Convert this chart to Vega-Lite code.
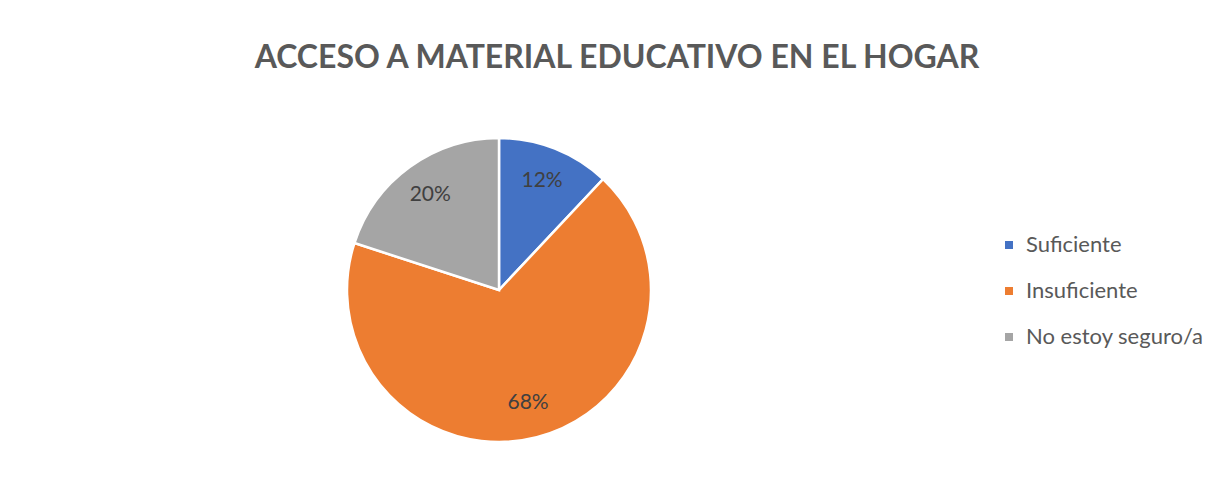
{
  "$schema": "https://vega.github.io/schema/vega-lite/v6.json",
  "autosize": "none",
  "width": 986,
  "height": 558,
  "padding": {"left": 6, "top": 11, "right": 226, "bottom": 0},
  "background": "white",
  "title": {
    "text": "ACCESO A MATERIAL EDUCATIVO EN EL HOGAR",
    "font": "Lato",
    "fontSize": 32,
    "fontWeight": "bold",
    "color": "#595959",
    "anchor": "middle",
    "frame": "group",
    "baseline": "alphabetic",
    "offset": -89,
    "dx": 118
  },
  "data": {
    "values": [
      {"categoria": "Suficiente", "porcentaje": 12, "orden": 1, "etiqueta": "12%"},
      {"categoria": "Insuficiente", "porcentaje": 68, "orden": 2, "etiqueta": "68%"},
      {"categoria": "No estoy seguro/a", "porcentaje": 20, "orden": 3, "etiqueta": "20%"}
    ]
  },
  "encoding": {
    "theta": {"field": "porcentaje", "type": "quantitative", "stack": true},
    "order": {"field": "orden", "type": "quantitative", "sort": "ascending"},
    "color": {
      "field": "categoria",
      "type": "nominal",
      "scale": {
        "domain": ["Suficiente", "Insuficiente", "No estoy seguro/a"],
        "range": ["#4472C4", "#ED7D31", "#A5A5A5"]
      },
      "legend": {
        "title": null,
        "orient": "none",
        "legendX": 992,
        "legendY": 223,
        "symbolType": "square",
        "symbolSize": 64,
        "symbolStrokeWidth": 0,
        "labelFont": "Lato",
        "labelFontSize": 22,
        "labelColor": "#595959",
        "labelOffset": 6,
        "labelLimit": 400,
        "rowPadding": 24,
        "padding": 0
      }
    }
  },
  "layer": [
    {
      "mark": {"type": "arc", "outerRadius": 152, "stroke": "white", "strokeWidth": 2.5}
    },
    {
      "mark": {"type": "text", "radius": 117, "font": "Lato", "fontSize": 21, "color": "#404040", "baseline": "middle", "align": "center"},
      "encoding": {
        "text": {"field": "etiqueta"},
        "color": {"value": "#404040"}
      }
    }
  ],
  "config": {"view": {"stroke": null}}
}
